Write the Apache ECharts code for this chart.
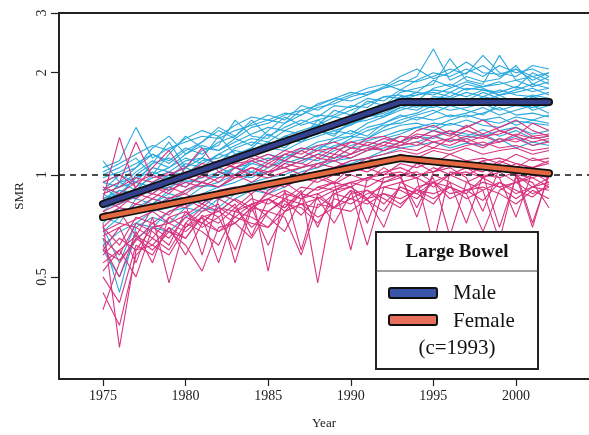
<!DOCTYPE html>
<html><head><meta charset="utf-8">
<script src="https://cdn.jsdelivr.net/npm/echarts@6/dist/echarts.min.js"></script>
<style>html,body{margin:0;padding:0;background:#fff}#c{width:589px;height:435px}</style>
</head><body><div id="c"></div>
<script>
const years = [1975,1976,1977,1978,1979,1980,1981,1982,1983,1984,1985,1986,1987,1988,1989,1990,1991,1992,1993,1994,1995,1996,1997,1998,1999,2000,2001,2002];
const xTicks = [1975,1980,1985,1990,1995,2000];
const yTicks = [0.5,1,2,3];

// Regional male SMR series (cyan)
const male1 = [1.05,1.1,1.38,1.12,1.2,1.25,1.3,1.28,1.35,1.4,1.45,1.42,1.5,1.58,1.62,1.7,1.75,1.8,1.85,1.95,2.35,1.9,2.0,2.1,1.95,2.05,1.9,2.0];
const male2 = [0.95,1.0,1.05,1.15,1.1,1.2,1.15,1.25,1.3,1.45,1.3,1.38,1.45,1.4,1.55,1.5,1.65,1.6,1.75,1.8,1.85,2.2,1.9,1.85,2.25,1.9,1.95,1.85];
const male3 = [0.9,0.95,0.98,1.05,1.02,1.1,1.12,1.08,1.2,1.25,1.22,1.3,1.35,1.4,1.38,1.5,1.55,1.58,1.7,1.72,1.75,1.7,1.8,1.78,1.75,1.82,1.76,1.8];
const male4 = [0.85,0.9,0.88,0.95,1.0,0.98,1.05,1.1,1.08,1.15,1.2,1.18,1.25,1.3,1.35,1.32,1.42,1.48,1.55,1.6,1.58,1.65,1.62,1.7,1.66,1.6,1.7,1.65];
const male5 = [0.8,0.82,0.86,0.9,0.92,0.96,0.95,1.0,1.05,1.02,1.1,1.15,1.12,1.2,1.25,1.3,1.28,1.38,1.45,1.5,1.55,1.48,1.52,1.58,1.5,1.55,1.6,1.52];
const male6 = [0.75,0.78,0.8,0.85,0.82,0.9,0.93,0.92,0.98,1.02,1.0,1.08,1.12,1.1,1.18,1.22,1.26,1.3,1.35,1.38,1.42,1.4,1.45,1.4,1.38,1.44,1.42,1.4];
const male7 = [0.7,0.55,0.72,0.78,0.8,0.85,0.82,0.88,0.9,0.95,0.98,1.0,1.05,1.08,1.12,1.15,1.2,1.25,1.3,1.28,1.35,1.32,1.3,1.36,1.3,1.35,1.28,1.3];
const male8 = [0.92,0.85,1.0,1.08,1.25,1.05,1.12,1.3,1.15,1.2,1.32,1.25,1.28,1.45,1.35,1.4,1.48,1.52,1.6,1.68,1.65,1.75,1.7,1.78,1.72,1.75,1.8,1.72];
const male9 = [1.0,1.05,1.12,1.0,1.15,1.3,1.2,1.18,1.28,1.22,1.35,1.48,1.4,1.45,1.5,1.6,1.58,1.7,1.72,1.65,1.8,1.85,1.78,1.82,1.88,1.8,2.0,1.9];
const male10 = [0.8,0.9,0.85,0.95,0.9,1.05,1.0,1.05,1.0,1.1,1.15,1.12,1.2,1.18,1.28,1.35,1.3,1.42,1.5,1.45,1.52,1.6,1.55,1.5,1.62,1.68,1.55,1.6];
const male11 = [0.65,0.45,0.7,0.75,0.72,0.8,0.85,0.8,0.88,0.92,0.9,0.95,1.0,1.02,1.05,1.1,1.12,1.18,1.22,1.25,1.3,1.26,1.28,1.32,1.25,1.3,1.22,1.26];
const male12 = [0.88,0.92,0.95,0.92,1.0,1.05,1.12,1.08,1.15,1.18,1.25,1.2,1.32,1.35,1.3,1.45,1.5,1.55,1.62,1.58,1.7,1.68,1.75,1.7,1.78,1.72,1.7,1.75];
const male13 = [0.98,1.02,1.08,1.15,1.08,1.18,1.25,1.35,1.28,1.38,1.42,1.5,1.55,1.6,1.68,1.65,1.72,1.8,1.9,1.88,1.95,2.05,1.98,2.25,2.0,1.95,2.1,2.05];
const male14 = [0.78,0.85,0.9,0.88,0.95,0.92,1.0,0.98,1.05,1.08,1.05,1.12,1.18,1.22,1.2,1.28,1.35,1.4,1.42,1.48,1.45,1.5,1.48,1.52,1.58,1.5,1.52,1.48];
const male15 = [0.6,0.5,0.65,0.7,0.68,0.75,0.8,0.78,0.85,0.9,0.88,0.92,0.98,1.0,1.05,1.08,1.12,1.15,1.2,1.22,1.25,1.2,1.24,1.22,1.28,1.2,1.25,1.22];
const male16 = [1.1,0.95,1.05,1.2,1.3,1.15,1.25,1.38,1.3,1.42,1.5,1.45,1.6,1.55,1.65,1.72,1.8,1.85,1.78,1.9,2.0,1.95,2.05,1.95,2.1,2.0,2.05,1.95];
const male17 = [0.85,0.88,0.98,1.02,0.98,1.08,1.05,1.15,1.12,1.2,1.18,1.3,1.28,1.32,1.42,1.4,1.5,1.48,1.58,1.62,1.68,1.62,1.66,1.75,1.68,1.65,1.72,1.68];
const male18 = [0.72,0.8,0.78,0.82,0.88,0.85,0.92,0.95,1.0,0.98,1.05,1.1,1.08,1.15,1.22,1.25,1.28,1.35,1.4,1.42,1.38,1.45,1.5,1.45,1.42,1.48,1.45,1.5];
const male19 = [0.82,0.95,0.9,1.0,1.05,1.12,1.08,1.15,1.22,1.28,1.25,1.35,1.32,1.4,1.48,1.45,1.55,1.62,1.65,1.72,1.78,1.75,1.85,1.8,1.72,1.78,1.85,1.8];
const male20 = [0.9,1.0,0.95,1.08,1.12,1.05,1.18,1.22,1.45,1.3,1.28,1.42,1.55,1.48,1.6,1.58,1.68,1.65,1.78,1.75,1.9,1.82,1.95,1.88,1.92,2.1,1.85,1.95];
const male21 = [0.68,0.75,0.82,0.8,0.86,0.82,0.88,0.92,0.95,1.0,1.02,1.05,1.1,1.15,1.12,1.2,1.22,1.28,1.32,1.38,1.35,1.42,1.38,1.45,1.48,1.4,1.45,1.42];
const male22 = [0.95,0.92,1.02,1.1,1.05,1.15,1.22,1.18,1.25,1.32,1.38,1.35,1.42,1.5,1.48,1.55,1.62,1.7,1.68,1.75,1.72,1.8,1.88,1.82,1.85,1.9,1.82,1.88];
const male23 = [0.75,0.72,0.85,0.82,0.9,0.95,0.98,1.02,1.0,1.08,1.12,1.1,1.18,1.25,1.28,1.3,1.38,1.42,1.48,1.52,1.6,1.55,1.58,1.62,1.55,1.6,1.58,1.62];
const male24 = [1.02,1.08,1.15,1.22,1.18,1.28,1.35,1.3,1.4,1.48,1.45,1.52,1.5,1.62,1.68,1.75,1.72,1.82,1.95,2.05,1.92,2.0,2.15,2.0,1.98,2.05,1.95,2.0];
const male25 = [0.88,0.82,0.92,0.98,1.02,1.0,1.1,1.12,1.18,1.15,1.22,1.28,1.25,1.35,1.32,1.42,1.45,1.5,1.58,1.55,1.65,1.6,1.68,1.65,1.72,1.62,1.68,1.65];
const male26 = [0.62,0.68,0.72,0.7,0.78,0.8,0.78,0.85,0.88,0.92,0.95,0.98,1.02,1.05,1.1,1.12,1.18,1.2,1.25,1.3,1.28,1.35,1.32,1.3,1.35,1.38,1.32,1.35];

// Regional female SMR series (pink)
const female1 = [0.72,0.31,0.6,0.7,0.65,0.75,0.72,0.8,0.78,0.85,0.82,0.88,0.85,0.92,0.9,0.95,0.98,1.0,1.02,0.98,1.05,1.0,1.02,0.98,1.05,1.0,0.98,1.02];
const female2 = [0.85,1.29,0.9,0.88,0.95,0.92,1.0,0.95,1.05,1.0,1.08,1.05,1.1,1.15,1.12,1.2,1.18,1.25,1.22,1.3,1.25,1.28,1.35,1.3,1.25,1.32,1.28,1.3];
const female3 = [0.6,0.7,0.55,0.75,0.48,0.72,0.8,0.75,0.6,0.82,0.85,0.78,0.88,0.7,0.9,0.92,0.85,0.95,0.98,0.8,1.0,0.95,0.72,1.0,0.98,0.75,1.02,0.95];
const female4 = [0.78,0.75,0.82,0.8,0.85,0.88,0.82,0.9,0.92,0.88,0.95,0.92,0.98,1.0,0.95,1.05,1.02,1.08,1.1,1.12,1.08,1.15,1.1,1.12,1.08,1.15,1.1,1.12];
const female5 = [0.5,0.42,0.62,0.58,0.7,0.65,0.75,0.55,0.78,0.82,0.75,0.68,0.85,0.88,0.8,0.9,0.62,0.92,0.95,0.9,0.98,0.66,0.95,1.0,0.7,0.98,0.95,0.8];
const female6 = [0.9,0.95,1.25,0.98,1.0,1.05,1.2,1.02,1.08,1.1,1.05,1.15,1.12,1.18,1.2,1.15,1.25,1.22,1.3,1.28,1.35,1.3,1.4,1.32,1.38,1.45,1.35,1.3];
const female7 = [0.68,0.72,0.7,0.65,0.75,0.78,0.72,0.8,0.75,0.82,0.85,0.8,0.88,0.85,0.9,0.95,0.92,0.98,1.0,1.02,0.95,1.0,1.05,0.98,1.02,0.95,1.0,0.98];
const female8 = [0.4,0.55,0.65,0.6,0.68,0.62,0.52,0.7,0.72,0.65,0.78,0.75,0.58,0.82,0.8,0.78,0.85,0.88,0.82,0.9,0.85,0.92,0.88,0.68,0.9,0.95,0.88,0.92];
const female9 = [0.82,0.88,0.85,0.92,0.9,0.95,0.92,0.98,1.0,0.95,1.02,1.05,1.0,1.08,1.1,1.05,1.12,1.15,1.18,1.15,1.2,1.18,1.22,1.25,1.2,1.22,1.18,1.2];
const female10 = [0.65,0.58,0.72,0.68,0.62,0.78,0.7,0.75,0.82,0.66,0.85,0.8,0.9,0.48,0.88,0.92,0.85,0.7,0.95,0.98,0.92,1.0,0.95,0.9,0.64,1.0,0.92,0.98];
const female11 = [0.95,1.0,0.92,1.05,1.18,1.0,1.08,1.05,1.12,1.15,1.1,1.18,1.15,1.22,1.25,1.2,1.28,1.3,1.25,1.35,1.4,1.32,1.38,1.45,1.35,1.3,1.42,1.35];
const female12 = [0.55,0.6,0.5,0.7,0.72,0.68,0.75,0.78,0.72,0.8,0.78,0.85,0.82,0.8,0.88,0.85,0.9,0.82,0.92,0.88,0.95,0.85,0.9,0.92,0.88,0.82,0.9,0.85];
const female13 = [0.75,0.8,0.78,0.85,0.82,0.8,0.88,0.85,0.9,0.92,0.88,0.95,0.98,0.95,1.0,1.02,1.05,1.0,1.08,1.05,1.1,1.08,1.05,1.1,1.12,1.08,1.05,1.08];
const female14 = [0.62,0.5,0.68,0.55,0.75,0.7,0.78,0.82,0.55,0.8,0.85,0.9,0.6,0.88,0.92,0.95,0.72,0.98,1.0,0.75,1.02,1.05,0.98,0.78,1.05,1.0,0.7,1.02];
const female15 = [0.88,0.92,0.98,0.95,1.02,0.98,1.05,1.1,1.05,1.12,1.08,1.15,1.2,1.18,1.15,1.25,1.22,1.28,1.25,1.32,1.3,1.25,1.3,1.28,1.35,1.3,1.25,1.28];
const female16 = [0.7,0.62,0.75,0.72,0.78,0.82,0.58,0.85,0.8,0.88,0.52,0.9,0.85,0.92,0.95,0.6,0.98,0.95,1.0,0.98,0.62,1.02,1.0,1.05,0.98,1.02,0.72,1.0];
const female17 = [0.8,0.85,0.82,0.88,0.85,0.9,0.95,0.92,0.98,1.0,0.98,1.02,1.05,1.08,1.05,1.1,1.12,1.08,1.15,1.12,1.18,1.15,1.2,1.15,1.18,1.2,1.15,1.18];
const female18 = [0.58,0.65,0.6,0.62,0.7,0.58,0.72,0.68,0.75,0.72,0.7,0.78,0.82,0.75,0.8,0.85,0.82,0.88,0.85,0.9,0.88,0.92,0.85,0.9,0.95,0.88,0.92,0.9];
const female19 = [0.78,0.82,0.88,0.85,0.92,0.88,0.95,0.92,1.0,1.05,1.0,1.08,1.05,1.12,1.1,1.15,1.2,1.18,1.22,1.25,1.2,1.28,1.25,1.2,1.28,1.25,1.3,1.25];
const female20 = [0.52,0.6,0.66,0.62,0.58,0.7,0.75,0.68,0.72,0.8,0.62,0.78,0.82,0.85,0.72,0.88,0.9,0.85,0.8,0.92,0.95,0.88,0.9,0.95,0.92,0.85,0.92,0.95];
const female21 = [0.92,0.88,0.95,1.0,0.95,1.02,0.98,1.08,1.05,1.1,1.15,1.1,1.18,1.12,1.2,1.25,1.22,1.18,1.25,1.22,1.3,1.35,1.25,1.3,1.32,1.38,1.3,1.32];
const female22 = [0.66,0.7,0.74,0.78,0.72,0.76,0.82,0.78,0.85,0.8,0.88,0.85,0.92,0.9,0.95,0.92,0.98,1.02,1.05,1.0,1.02,1.08,1.05,1.1,1.02,1.08,1.05,1.1];
const female23 = [0.45,0.36,0.58,0.65,0.6,0.72,0.68,0.62,0.78,0.75,0.7,0.82,0.8,0.72,0.85,0.82,0.88,0.92,0.9,0.85,0.95,0.92,0.88,0.98,0.92,0.95,0.98,0.92];
const female24 = [0.85,0.8,0.88,0.92,0.88,0.98,0.95,1.02,0.98,1.05,1.02,1.1,1.08,1.05,1.15,1.12,1.18,1.22,1.2,1.18,1.25,1.22,1.28,1.22,1.25,1.28,1.22,1.25];
const female25 = [0.7,0.78,0.66,0.8,0.76,0.85,0.8,0.88,0.84,0.78,0.9,0.95,0.88,0.98,0.94,1.0,0.96,1.05,0.98,1.08,1.02,1.1,1.05,1.02,1.1,1.05,1.12,1.08];
const female26 = [0.6,0.56,0.64,0.72,0.68,0.65,0.76,0.72,0.8,0.7,0.78,0.84,0.76,0.86,0.8,0.9,0.84,0.78,0.92,0.88,0.82,0.95,0.9,0.84,0.95,0.9,0.86,0.94];

// Fitted joinpoint trends (change point c = 1993)
const trendYears = [1975,1993,2002];
const maleTrend = [0.82,1.64,1.64];
const femaleTrend = [0.75,1.12,1.01];

const maleLines = [male1,male2,male3,male4,male5,male6,male7,male8,male9,male10,male11,male12,male13,male14,male15,male16,male17,male18,male19,male20,male21,male22,male23,male24,male25,male26];
const femaleLines = [female1,female2,female3,female4,female5,female6,female7,female8,female9,female10,female11,female12,female13,female14,female15,female16,female17,female18,female19,female20,female21,female22,female23,female24,female25,female26];

const L = v => Math.log10(v);
const FONT = '"Liberation Serif", "Times New Roman", serif';
const XMIN = 1972.34, XMAX = 2004.42;
const series = [];
maleLines.forEach(arr => series.push({
  type:'line', data: years.map((y,i)=>[y, L(arr[i])]), symbol:'none', silent:true,
  lineStyle:{color:'#2aa9de', width:1.1}, z:2
}));
femaleLines.forEach(arr => series.push({
  type:'line', data: years.map((y,i)=>[y, L(arr[i])]), symbol:'none', silent:true,
  lineStyle:{color:'#d8347f', width:1.1}, z:3
}));
series.push({type:'line', data:[], silent:true, z:4,
  markLine:{symbol:'none', silent:true, label:{show:false},
    lineStyle:{color:'#111', type:[6,5], width:1.5}, data:[{yAxis:0}]}});
[[maleTrend,'#33418f'],[femaleTrend,'#e3683f']].forEach(([arr,col])=>{
  series.push({type:'line', data: trendYears.map((y,i)=>[y, L(arr[i])]), symbol:'none', silent:true,
    lineStyle:{color:'#111', width:8, cap:'round', join:'round'}, z:5});
  series.push({type:'line', data: trendYears.map((y,i)=>[y, L(arr[i])]), symbol:'none', silent:true,
    lineStyle:{color:col, width:4.5, cap:'round', join:'round'}, z:6});
});

const chart = echarts.init(document.getElementById('c'), null, {renderer:'canvas'});
chart.setOption({
  animation:false,
  backgroundColor:'#fff',
  grid:{left:59, right:0, top:13, bottom:56, show:false},
  xAxis:[{type:'value', min:XMIN, max:XMAX,
    name:'Year', nameLocation:'middle', nameGap:38, nameTextStyle:{fontFamily:FONT, fontSize:13, color:'#222'},
    axisLine:{onZero:false, lineStyle:{color:'#222', width:2}},
    axisTick:{customValues:xTicks, length:7, lineStyle:{color:'#222', width:1.2}},
    axisLabel:{customValues:xTicks, margin:10, fontFamily:FONT, fontSize:14, color:'#222', formatter: v => String(v)},
    splitLine:{show:false}},
   {type:'value', position:'top', min:XMIN, max:XMAX,
    axisLine:{show:true, onZero:false, lineStyle:{color:'#222', width:2}},
    axisTick:{show:false}, axisLabel:{show:false}, splitLine:{show:false}}],
  yAxis:{type:'value', min:L(0.25), max:L(3),
    name:'SMR', nameLocation:'middle', nameGap:33, nameTextStyle:{fontFamily:FONT, fontSize:13, color:'#222'},
    axisLine:{show:true, onZero:false, lineStyle:{color:'#222', width:2}},
    axisTick:{customValues:yTicks.map(L), length:8, lineStyle:{color:'#222', width:1.2}},
    axisLabel:{customValues:yTicks.map(L), rotate:90, margin:10, fontFamily:FONT, fontSize:14, color:'#222',
      formatter: v => String(Math.round(Math.pow(10,v)*10)/10)},
    splitLine:{show:false}},
  series: series,
  graphic:[
    {type:'rect', shape:{x:376, y:232, width:162, height:137}, style:{fill:'#fff', stroke:'#222', lineWidth:2}, z:100},
    {type:'line', shape:{x1:376, y1:271, x2:538, y2:271}, style:{stroke:'#444', lineWidth:1}, z:101},
    {type:'text', x:457, y:252, style:{text:'Large Bowel', font:'bold 19px '+FONT, fill:'#111', align:'center', verticalAlign:'middle'}, z:101},
    {type:'rect', shape:{x:389, y:288, width:48, height:10, r:2}, style:{fill:'#3a55a8', stroke:'#111', lineWidth:2}, z:101},
    {type:'text', x:453, y:293, style:{text:'Male', font:'21px '+FONT, fill:'#111', align:'left', verticalAlign:'middle'}, z:101},
    {type:'rect', shape:{x:389, y:315, width:48, height:10, r:2}, style:{fill:'#e8705a', stroke:'#111', lineWidth:2}, z:101},
    {type:'text', x:453, y:321, style:{text:'Female', font:'21px '+FONT, fill:'#111', align:'left', verticalAlign:'middle'}, z:101},
    {type:'text', x:457, y:348, style:{text:'(c=1993)', font:'21px '+FONT, fill:'#111', align:'center', verticalAlign:'middle'}, z:101}
  ]
});
</script></body></html>
